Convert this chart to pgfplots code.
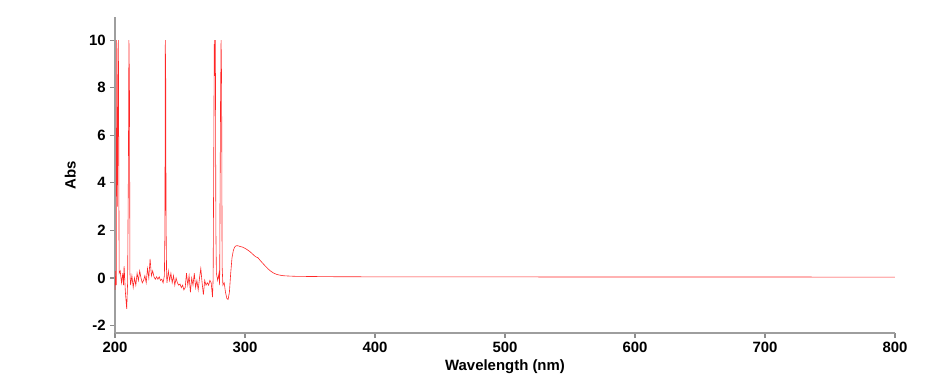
\documentclass[border=0pt]{standalone}
\usepackage{pgfplots}
\pgfplotsset{compat=1.18}
\usepackage{fontspec}
\setmainfont{Liberation Sans}
\begin{document}
\begin{tikzpicture}
\path[use as bounding box] (-86.25pt,-42pt) rectangle (618.75pt,249.75pt);
\begin{axis}[
  at={(0,0)}, anchor=south west,
  scale only axis, width=585pt, height=237pt,
  xmin=200, xmax=800, ymin=-2.31, ymax=10.97,
  axis lines=left,
  axis line style={-, draw=black!38, line width=1.1pt},
  tick style={draw=black!45, line width=0.8pt},
  tick align=outside,
  major tick length=3.5pt,
  xtick={200,300,...,800},
  ytick={-2,0,2,4,6,8,10},
  minor tick num=0,
  font=\fontsize{11.2}{13}\selectfont\bfseries,
  tick label style={font=\fontsize{11.2}{13}\selectfont\bfseries},
  /pgf/number format/assume math mode=true,
  xlabel={Wavelength (nm)},
  ylabel={Abs},
  xlabel style={yshift=1.5pt},
  ylabel style={yshift=3pt},
  clip=true,
]
\addplot[red!85, line width=0.45pt] coordinates {
(200,-0.5) (200.6,0.3) (201,-0.3) (201.3,10) (201.8,3) (202.3,8.3) (202.6,10) (203.2,0.2)
(204,0.3) (205,-0.2) (206,0.2) (206.5,-0.3) (207,0.5) (208,-0.6) (209,-1.3) (209.7,-0.2)
(210.3,4.5) (210.7,10) (211.1,8.2) (211.5,0.2) (212,-0.3) (213,0.1) (214,-0.4) (215,0.0)
(216,-0.3) (217,0.2) (218,-0.1) (219,0.3) (220,0.0) (221,-0.2) (222,-0.1) (223,0.1)
(224,-0.2) (225,0.4) (226,0.0) (227,0.8) (228,0.1) (229,0.3) (230,0.05) (231,-0.05)
(232,0.05) (233,-0.05) (234,0.05) (235,-0.1) (236,-0.05) (237,-0.2) (238,0.1)
(238.4,2) (238.7,10) (239.0,8.4) (239.3,2.2) (239.7,0.1) (240,-0.2)
(241,0.3) (242,-0.1) (243,0.2) (244,-0.2) (245,0.1) (246,-0.3) (247,0.0) (248,-0.2)
(249,-0.3) (250,-0.25) (251,-0.4) (252,-0.3) (253,-0.5) (254,-0.4) (255,0.2) (256,-0.3)
(257,0.1) (258,-0.6) (259,0.0) (260,-0.3) (261,0.2) (262,-0.4) (263,-0.1) (264,-0.5)
(265,0.0) (266,0.4) (267,-0.2) (268,-0.7) (269,-0.1) (270,-0.3) (271,-0.2) (272,-0.3)
(273,-0.1) (274,-0.2) (275,-0.8)
(275.5,0) (276,5.5) (276.4,10) (276.8,8.5) (277.2,10) (277.6,2) (278,0.2) (279,-0.1)
(280,0.2) (280.5,-0.3) (281.2,7.5) (281.6,10) (282.0,8.3) (282.4,0.5) (283,-0.3)
(284,-0.2) (285,-0.6) (286,-0.85) (287,-0.9) (288,-0.6) (289,0.2) (290,0.85) (291,1.15)
(292,1.3) (293,1.35) (294,1.36) (295,1.35) (296,1.33) (298,1.3) (300,1.25) (302,1.18)
(304,1.1) (306,1.0) (308,0.9) (310,0.85) (312,0.72) (314,0.6) (316,0.48) (318,0.37)
(320,0.28) (322,0.21) (324,0.16) (326,0.13) (328,0.11) (330,0.095) (335,0.08) (340,0.07)
(350,0.065) (360,0.06) (370,0.055) (400,0.05) (450,0.048) (500,0.046) (550,0.045)
(600,0.044) (700,0.042) (800,0.04)
};
\end{axis}
\end{tikzpicture}
\end{document}
